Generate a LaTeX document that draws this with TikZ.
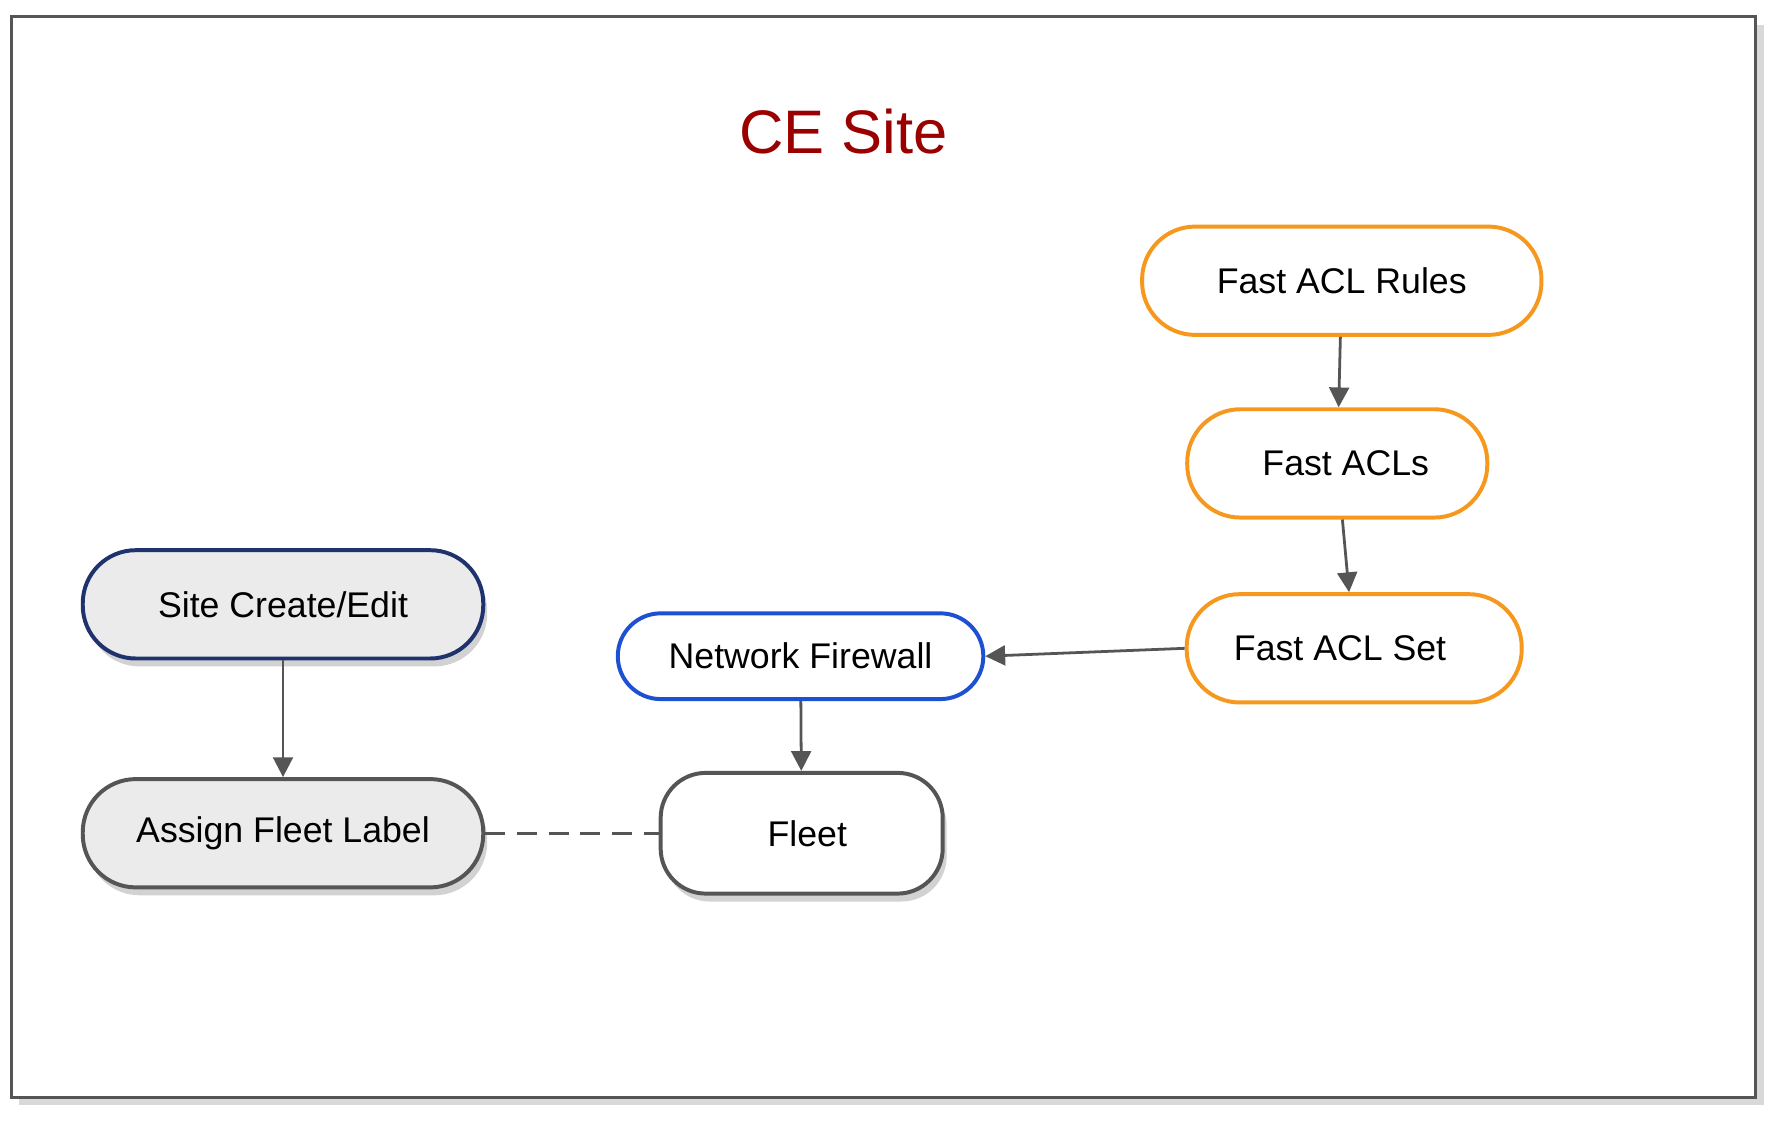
\documentclass[tikz,border=0pt]{standalone}
\usepackage{fontspec}
\setmainfont{Liberation Sans}
\usetikzlibrary{arrows.meta,shadows}
\definecolor{acl}{RGB}{246,152,30}
\definecolor{fw}{RGB}{30,80,210}
\definecolor{navy}{RGB}{30,50,110}
\definecolor{title}{RGB}{155,0,0}
\definecolor{line}{RGB}{85,85,85}
\tikzset{
  box/.style={draw, line width=1pt, rounded corners=0.47cm, align=center,
    font=\fontsize{9}{11}\selectfont, inner sep=0pt},
  aclbox/.style={box, draw=acl, minimum height=0.96cm},
  link/.style={-{Triangle[length=5pt,width=5pt]}, line, line width=0.7pt},
}
\begin{document}
\begin{tikzpicture}[x=0.01cm,y=-0.01cm]
	\useasboundingbox (0,0) rectangle (1568,995);
	\draw[line width=0.8pt, draw=line, drop shadow={opacity=0.3,shadow xshift=2pt,shadow yshift=-2pt}, fill=white]
		(10,15) rectangle (1557,973);

	\node[text=title, font=\fontsize{15.5}{18}\selectfont] (ttl) at (748,117) {CE Site};

	\node[aclbox, minimum width=3.54cm] (rules) at (1190,249) {Fast ACL Rules};
	\node[aclbox, minimum width=2.66cm] (acls) at (1186,411) {\hspace*{0.15cm}Fast ACLs};
	\node[aclbox, minimum width=2.97cm] (set) at (1201,575) {Fast ACL Set\hspace*{0.25cm}};

	\node[box, draw=fw, minimum width=3.24cm, minimum height=0.76cm, rounded corners=0.38cm] (fw) at (710,582) {Network Firewall};

	\node[box, draw=navy, fill=black!8, minimum width=3.55cm, minimum height=0.96cm,
		drop shadow={opacity=0.35,shadow xshift=1pt,shadow yshift=-2pt}] (site) at (251,536) {Site Create/Edit};
	\node[box, draw=line, fill=black!8, minimum width=3.55cm, minimum height=0.96cm,
		drop shadow={opacity=0.35,shadow xshift=1pt,shadow yshift=-2pt}] (label) at (251,739) {Assign Fleet Label};
	\node[box, draw=line, fill=white, minimum width=2.5cm, minimum height=1.07cm, rounded corners=0.4cm,
		drop shadow={opacity=0.35,shadow xshift=1pt,shadow yshift=-2pt}] (fleet) at (711,739) {\hspace*{0.1cm}Fleet};

	\draw[link] (rules) -- (acls);
	\draw[link] (acls) -- (set);
	\draw[link] (set.west) -- (fw.east);
	\draw[link] (fw) -- (fleet);
	\draw[link] (site) -- (label);
	\draw[line, line width=0.8pt, dash pattern=on 5pt off 3pt] (label.east) -- (fleet.west);
\end{tikzpicture}
\end{document}
